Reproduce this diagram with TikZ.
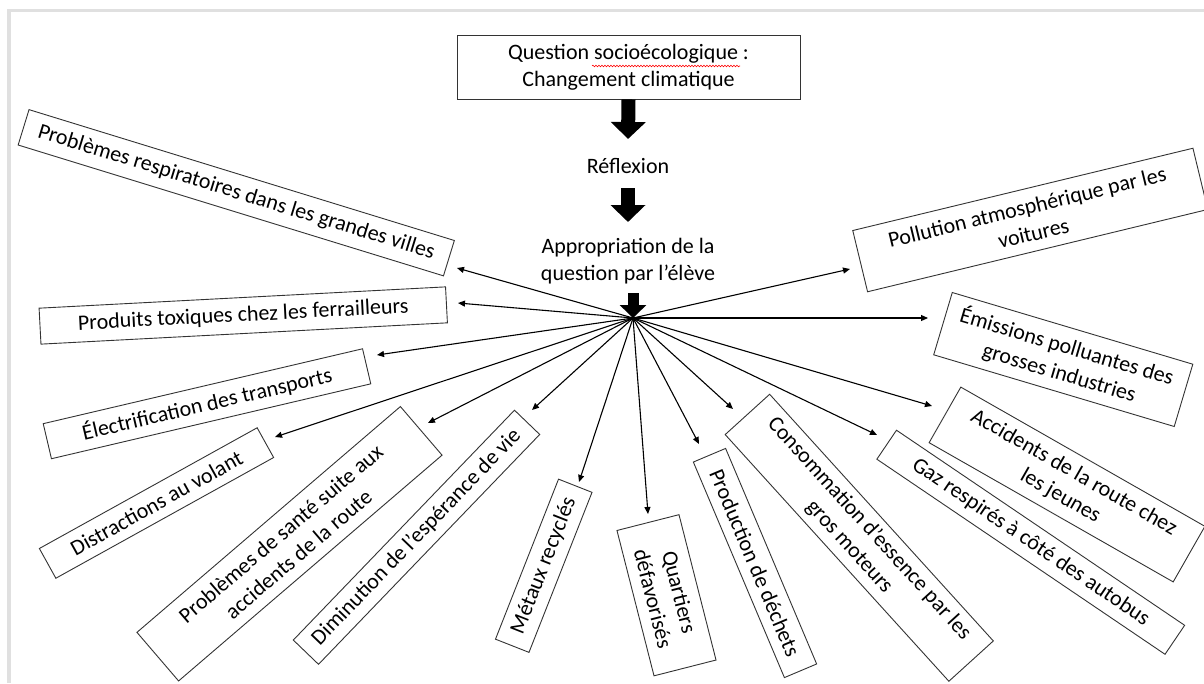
\documentclass[tikz,border=0pt]{standalone}
\usepackage{fontspec}
\setmainfont{Carlito}
\usetikzlibrary{arrows.meta,calc,decorations.pathmorphing}
\tikzset{
  box/.style={draw=black!80, line width=0.9pt, inner sep=0pt, align=center,
    font=\fontsize{22}{27}\selectfont},
  lbl/.style={inner sep=0pt, align=center, font=\fontsize{22}{27}\selectfont},
  bigarrow/.style={line width=14pt, -{Triangle[width=34pt,length=17pt]}},
  smallbig/.style={line width=11pt, -{Triangle[width=26pt,length=13pt]}},
  thin/.style={line width=1.1pt, -{Triangle[length=7pt,width=6pt]}},
}
\begin{document}
\begin{tikzpicture}[x=1pt,y=-1pt]
\useasboundingbox (0,0) rectangle (1204,683);
\fill[white] (0,0) rectangle (1204,683);
% screenshot frame
\fill[black!12] (7,9) rectangle (11,683);
\fill[black!12] (7,9) rectangle (1204,12);

% top
\node[box, minimum width=343pt, minimum height=64pt] (q) at (628.5,67)
  {Question socioécologique :\\Changement climatique};
\draw[red, line width=0.6pt, decorate, decoration={snake, amplitude=0.8pt, segment length=3pt}]
  (592,66) -- (740,66);
\node[lbl] (refl) at (628,166) {Réflexion};
\node[lbl] (appr) at (628,261.5) {Appropriation de la\\question par l’élève};
\coordinate (hub) at (633,318);

\draw[bigarrow] (q.south) -- ($(refl.center)+(0,-27)$);
\draw[bigarrow] ($(refl.center)+(0,22)$) -- ($(appr.center)+(0,-39.5)$);
\draw[smallbig] ($(appr.center)+(5,31.5)$) -- (hub);

% boxes
\node[box, rotate=-17.1, minimum width=445pt, minimum height=37pt] (b1) at (236.25,192.75)
  {Problèmes respiratoires dans les grandes villes};
\node[box, rotate=3.0, minimum width=407pt, minimum height=36pt] (b2) at (243.25,315.5)
  {Produits toxiques chez les ferrailleurs};
\node[box, rotate=13.2, minimum width=328pt, minimum height=36pt] (b3) at (207,403.75)
  {Électrification des transports};
\node[box, rotate=29.0, minimum width=249pt, minimum height=34pt] (b4) at (156.5,503)
  {Distractions au volant};
\node[box, rotate=40.6, minimum width=347pt, minimum height=64pt] (b5) at (289.5,543.75)
  {Problèmes de santé suite aux\\accidents de la route};
\node[box, rotate=46.1, minimum width=319pt, minimum height=35pt] (b6) at (416.5,537.25)
  {Diminution de l’espérance de vie};
\node[box, rotate=68.5, minimum width=172pt, minimum height=36pt] (b7) at (543.75,565.75)
  {Métaux recyclés};
\node[box, rotate=-75.7, minimum width=150pt, minimum height=64pt] (b8) at (666.5,595.25)
  {Quartiers\\défavorisés};
\node[box, rotate=-67.1, minimum width=234pt, minimum height=35pt] (b9) at (755,563)
  {Production de déchets};
\node[box, rotate=-47.8, minimum width=333pt, minimum height=60pt] (b10) at (859.25,537.75)
  {Consommation d’essence par les\\gros moteurs};
\node[box, rotate=-34.1, minimum width=348pt, minimum height=35pt] (b11) at (1030.75,542.25)
  {Gaz respirés à côté des autobus};
\node[box, rotate=-29.7, minimum width=281pt, minimum height=64pt] (b12) at (1067,484.5)
  {Accidents de la route chez\\les jeunes};
\node[box, rotate=-16.6, minimum width=251pt, minimum height=65pt] (b13) at (1063.25,359.5)
  {Émissions polluantes des\\grosses industries};
\node[box, rotate=13.6, minimum width=350pt, minimum height=63pt] (b14) at (1030.25,220)
  {Pollution atmosphérique par les\\voitures};

% arrow tips
\coordinate (t1) at (457,268);
\coordinate (t2) at (458,303);
\coordinate (t3) at (377,355);
\coordinate (t4) at (275,437);
\coordinate (t5) at (428,423);
\coordinate (t6) at (532,410);
\coordinate (t7) at (579,482);
\coordinate (t8) at (648,514);
\coordinate (t9) at (699,444);
\coordinate (t10) at (733,409);
\coordinate (t11) at (877,435);
\coordinate (t12) at (932,406);
\coordinate (t13) at (928,318);
\coordinate (t14) at (850,269);
\foreach \i in {1,...,14} { \draw[thin] (hub) -- (t\i); }
\end{tikzpicture}
\end{document}
